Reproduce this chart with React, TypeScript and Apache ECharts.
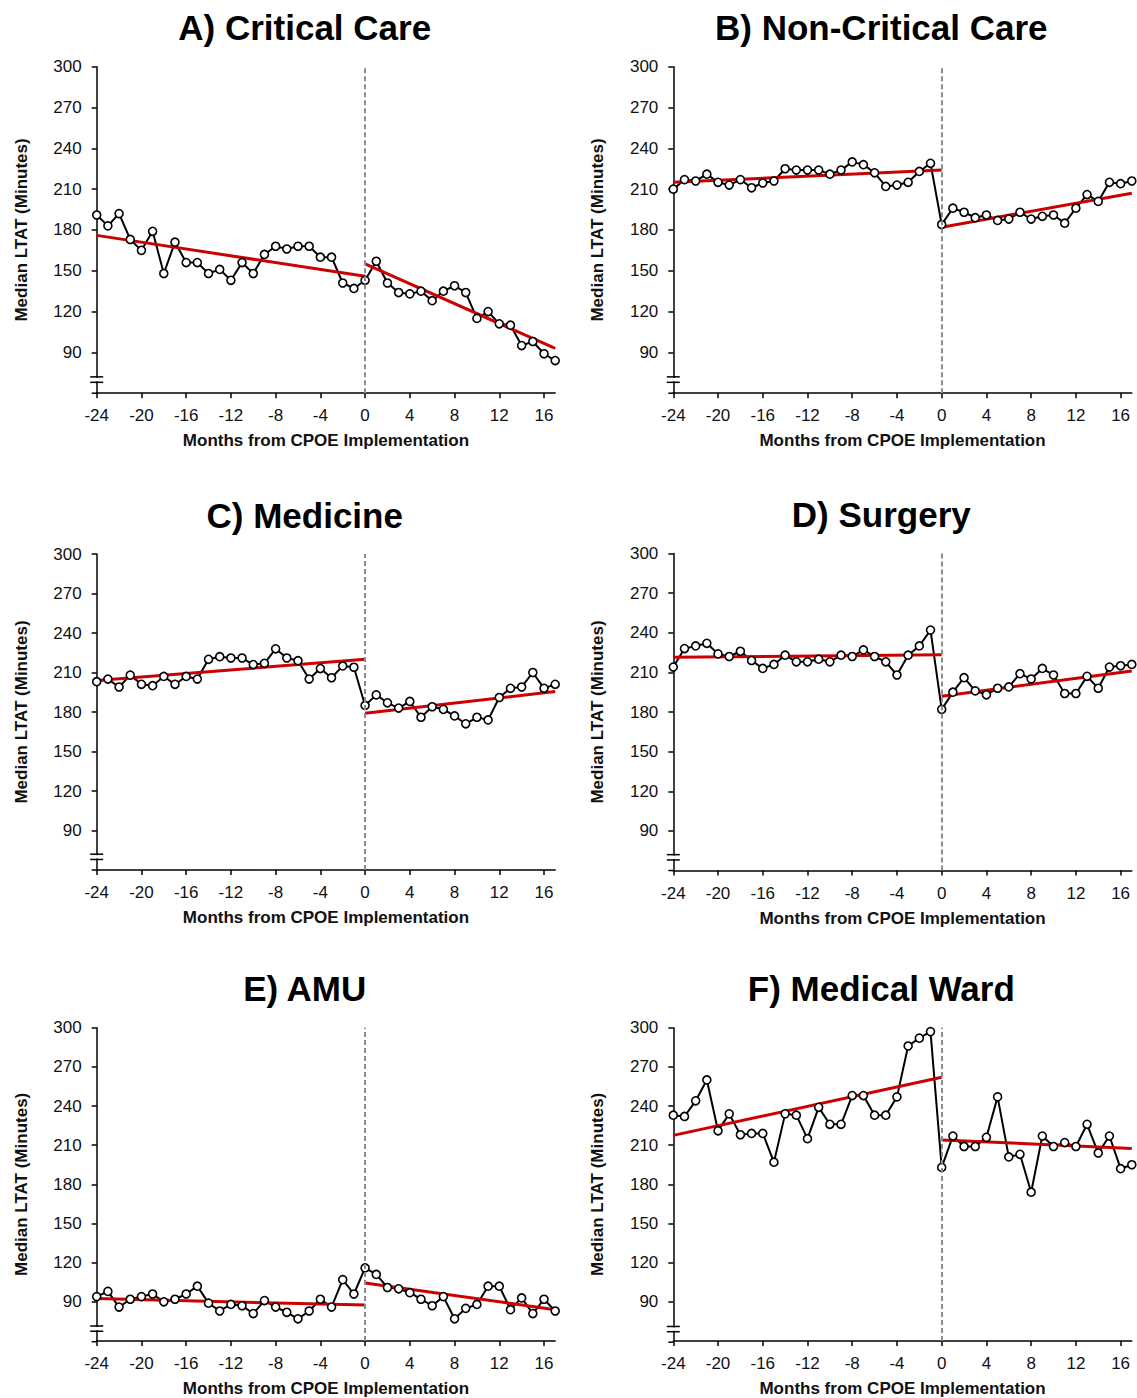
import React, { useEffect, useRef } from "react";
import * as echarts from "echarts";

// ---------- data ----------
const months = [-24, -23, -22, -21, -20, -19, -18, -17, -16, -15, -14, -13, -12, -11, -10, -9, -8, -7, -6, -5, -4, -3, -2, -1,
  0, 1, 2, 3, 4, 5, 6, 7, 8, 9, 10, 11, 12, 13, 14, 15, 16, 17];

const xTickValues = [-24, -20, -16, -12, -8, -4, 0, 4, 8, 12, 16];
const yTickValues = [90, 120, 150, 180, 210, 240, 270, 300];

const titles = ["A) Critical Care", "B) Non-Critical Care", "C) Medicine", "D) Surgery", "E) AMU", "F) Medical Ward"];

const criticalCare = [191, 183, 192, 173, 165, 179, 148, 171, 156, 156, 148, 151, 143, 156, 148, 162, 168, 166, 168, 168, 160, 160, 141, 137,
  143, 157, 141, 134, 133, 135, 128, 135, 139, 134, 115, 120, 111, 110, 95, 98, 89, 84];
const nonCriticalCare = [210, 217, 216, 221, 215, 213, 217, 211, 214.5, 216, 225, 224, 224, 224, 221, 224, 230, 228, 222, 212, 213, 215, 223, 229,
  184, 196, 193, 189, 191, 187, 188, 193, 188, 190, 191, 185, 196, 206, 201, 215, 214, 216];
const medicine = [203, 205, 199, 208, 201, 200, 207, 201, 207, 205, 220, 222, 221, 221, 216, 217, 228, 221, 219, 205, 213, 206, 215, 214,
  185, 193, 187, 183, 188, 176, 184, 182, 177, 171, 176, 174, 191, 198, 199, 210, 198, 201];
const surgery = [214, 228, 230, 232, 224, 222, 226, 219, 213, 216, 223, 218, 218, 220, 218, 223, 222, 227, 222, 218, 208, 223, 230, 242,
  182, 195, 206, 196, 193, 198, 199, 209, 205, 213, 208, 194, 194, 207, 198, 214, 215, 216];
const amu = [94, 98, 86, 92, 94, 96, 90, 92, 96, 102, 89, 83, 88, 87, 81, 91, 86, 82, 77, 83, 92, 86, 107, 96,
  116, 111, 101, 100, 97, 92, 87, 94, 77, 85, 88, 102, 102, 84, 93, 81, 92, 83];
const medicalWard = [233, 232, 244, 260, 221, 234, 218, 219, 219, 197, 234, 233, 215, 239, 226, 226, 248, 248, 233, 233, 247, 286, 292, 297,
  193, 217, 209, 209, 216, 247, 201, 203, 174, 217, 209, 212, 209, 226, 204, 217, 192, 195];

// trend segment end points (x) and fitted values (y)
const preTrendX = [-24, 0];
const postTrendX = [0, 17];
const preTrends = [
  [176, 146],
  [215, 224],
  [204, 220],
  [221.5, 223.3],
  [92.5, 87.5],
  [217.5, 262],
];
const postTrends = [
  [155, 93],
  [182, 207],
  [179, 195.5],
  [192, 211],
  [104.5, 84],
  [214, 207.5],
];
const panelValues = [criticalCare, nonCriticalCare, medicine, surgery, amu, medicalWard];

// ---------- layout ----------
const FONT = '"Liberation Sans", Arial, Helvetica, sans-serif';
const PLOT_W = 458.5;
const layout = [
  { left: 96.7, top: 66.7, height: 326.5 },
  { left: 673.3, top: 66.7, height: 326.5 },
  { left: 96.7, top: 554, height: 316 },
  { left: 673.3, top: 553.5, height: 317 },
  { left: 96.7, top: 1027.7, height: 314 },
  { left: 673.3, top: 1027.7, height: 314.5 },
];
const Y_MIN = 60;
const Y_MAX = 300;

function buildOption() {
  const grid: any[] = [];
  const xAxis: any[] = [];
  const yAxis: any[] = [];
  const series: any[] = [];
  const graphic: any[] = [];

  layout.forEach((g, i) => {
    grid.push({ left: g.left, top: g.top, width: PLOT_W, height: g.height, containLabel: false });
    xAxis.push({
      gridIndex: i,
      type: "value",
      position: "bottom",
      min: -24,
      max: 17,
      interval: 4,
      axisLine: { show: true, onZero: false, lineStyle: { color: "#000", width: 1.5 } },
      axisTick: { show: true, length: 5, inside: false, lineStyle: { color: "#000", width: 1.5 }, customValues: xTickValues },
      axisLabel: { customValues: xTickValues, fontSize: 17, color: "#111", margin: 14, fontFamily: FONT },
      splitLine: { show: false },
      name: "Months from CPOE Implementation",
      nameLocation: "middle",
      nameGap: 39,
      nameTextStyle: { fontWeight: "bold", fontSize: 17, color: "#111", fontFamily: FONT },
    });
    yAxis.push({
      gridIndex: i,
      type: "value",
      position: "left",
      min: Y_MIN,
      max: Y_MAX,
      interval: 30,
      axisLine: { show: true, onZero: false, lineStyle: { color: "#000", width: 1.5 } },
      axisTick: { show: true, length: 5, lineStyle: { color: "#000", width: 1.5 }, customValues: yTickValues },
      axisLabel: { customValues: yTickValues, fontSize: 17, color: "#111", margin: 15, fontFamily: FONT },
      splitLine: { show: false },
      name: "Median LTAT (Minutes)",
      nameLocation: "middle",
      nameGap: 67,
      nameTextStyle: { fontWeight: "bold", fontSize: 17, color: "#111", fontFamily: FONT },
    });

    const vals = panelValues[i];
    const pts = months.map((m, k) => [m, vals[k]]);
    series.push({
      type: "line",
      xAxisIndex: i,
      yAxisIndex: i,
      data: pts,
      showSymbol: false,
      lineStyle: { color: "#000", width: 2 },
      z: 2,
      silent: true,
      markLine: {
        silent: true,
        symbol: ["none", "none"],
        label: { show: false },
        lineStyle: { type: [5, 3], color: "#8c8c8c", width: 2 },
        data: [{ xAxis: 0 }],
      },
    });
    series.push({
      type: "line",
      xAxisIndex: i,
      yAxisIndex: i,
      data: preTrendX.map((x, k) => [x, preTrends[i][k]]),
      showSymbol: false,
      lineStyle: { color: "#cc0000", width: 3 },
      z: 3,
      silent: true,
    });
    series.push({
      type: "line",
      xAxisIndex: i,
      yAxisIndex: i,
      data: postTrendX.map((x, k) => [x, postTrends[i][k]]),
      showSymbol: false,
      lineStyle: { color: "#cc0000", width: 3 },
      z: 3,
      silent: true,
    });
    series.push({
      type: "scatter",
      xAxisIndex: i,
      yAxisIndex: i,
      data: pts,
      symbol: "circle",
      symbolSize: 8,
      itemStyle: { color: "#fff", borderColor: "#000", borderWidth: 1.6, opacity: 1 },
      z: 4,
      silent: true,
    });

    // title
    graphic.push({
      type: "text",
      x: g.left + 208,
      y: g.top - 39,
      style: {
        text: titles[i],
        fontSize: 35,
        fontWeight: "bold",
        fontFamily: FONT,
        fill: "#000",
        align: "center",
        verticalAlign: "middle",
      },
    });

    // axis break marks
    const yPix = (v: number) => g.top + ((Y_MAX - v) / (Y_MAX - Y_MIN)) * g.height;
    const y1 = yPix(72);
    const y2 = yPix(68);
    const ax = g.left;
    graphic.push({
      type: "rect",
      shape: { x: ax - 3, y: y1 + 1, width: 6, height: y2 - y1 - 2 },
      style: { fill: "#fff" },
      z: 100,
    });
    graphic.push({
      type: "line",
      shape: { x1: ax - 6.5, y1: y1, x2: ax + 6.5, y2: y1 },
      style: { stroke: "#000", lineWidth: 1.5 },
      z: 101,
    });
    graphic.push({
      type: "line",
      shape: { x1: ax - 6.5, y1: y2, x2: ax + 6.5, y2: y2 },
      style: { stroke: "#000", lineWidth: 1.5 },
      z: 101,
    });
    const yb = g.top + g.height;
    graphic.push({
      type: "line",
      shape: { x1: ax - 5, y1: yb, x2: ax, y2: yb },
      style: { stroke: "#000", lineWidth: 1.5 },
      z: 101,
    });
  });

  return {
    animation: false,
    backgroundColor: "#fff",
    textStyle: { fontFamily: FONT },
    grid,
    xAxis,
    yAxis,
    series,
    graphic,
  };
}

export default function App() {
  const ref = useRef<HTMLDivElement>(null);
  useEffect(() => {
    document.body.style.margin = "0";
    if (!ref.current) return;
    const chart = echarts.init(ref.current, undefined, { renderer: "svg" });
    chart.setOption(buildOption() as any);
    return () => {
      chart.dispose();
    };
  }, []);
  return <div ref={ref} style={{ width: 1137, height: 1398, background: "#fff" }} />;
}
